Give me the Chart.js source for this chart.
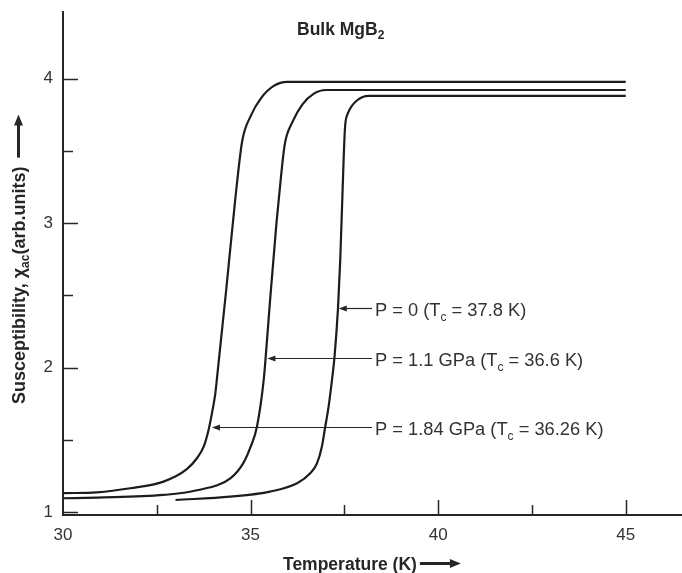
<!DOCTYPE html>
<html>
<head>
<meta charset="utf-8">
<title>Bulk MgB2 - ac susceptibility under pressure</title>
<script src="https://cdn.jsdelivr.net/npm/chart.js@4.4.0/dist/chart.umd.min.js"></script>
<style>
  html, body { margin: 0; padding: 0; background: #fff; }
  #wrap { width: 682px; height: 573px; }
</style>
</head>
<body>
<div id="wrap"><canvas id="chi" width="682" height="573"></canvas></div>
<script>
// ---- measured curves: temperature (K) vs chi_ac (arb. units) ----
const tempP0 = [33.0, 34.46, 35.52, 36.24, 36.59, 36.77, 36.9, 36.99, 37.08, 37.17, 37.238, 37.33, 37.39, 37.48, 37.513, 37.534, 37.598, 37.70, 37.833, 37.988, 38.153, 45];
const chiP0  = [1.083, 1.106, 1.141, 1.199, 1.268, 1.337, 1.452, 1.59, 1.729, 1.914, 2.076, 2.41, 2.745, 3.438, 3.645, 3.706, 3.763, 3.812, 3.849, 3.873, 3.881, 3.881];

const tempP11 = [30, 30.9, 32.68, 33.57, 34.47, 34.81, 35.0, 35.17, 35.35, 35.4, 35.53, 35.69, 35.75, 35.909, 36.114, 36.378, 36.688, 37.019, 45];
const chiP11  = [1.095, 1.1, 1.118, 1.15, 1.235, 1.34, 1.45, 1.59, 1.914, 2.064, 2.5, 3.0, 3.161, 3.542, 3.699, 3.821, 3.897, 3.922, 3.922];

const tempP184 = [30, 30.9, 31.79, 32.68, 33.3, 33.57, 33.75, 33.88, 33.97, 34.06, 34.1, 34.35, 34.59, 34.777, 34.996, 35.284, 35.618, 35.978, 45];
const chiP184  = [1.13, 1.136, 1.164, 1.21, 1.296, 1.372, 1.452, 1.568, 1.683, 1.82, 1.914, 2.537, 3.161, 3.569, 3.738, 3.867, 3.95, 3.978, 3.978];

// ---- axis ticks ----
const xTicks = [30, 32.5, 35, 37.5, 40, 42.5, 45];
const xTickLabels = [30, 35, 40, 45];
const yTicks = [1, 1.5, 2, 2.5, 3, 3.5, 4];
const yTickLabels = [1, 2, 3, 4];

// ---- curve labels (arrow tip sits on its curve) ----
const pressureLabels = ['P = 0', 'P = 1.1 GPa', 'P = 1.84 GPa'];
const tcLabels = ['37.8 K', '36.6 K', '36.26 K'];
const arrowTipT = [37.35, 35.45, 33.97];
const arrowTipChi = [2.41, 2.064, 1.59];

const INK = '#262626';
const FONT = '"Liberation Sans", Arial, Helvetica, sans-serif';

function toPoints(xs, ys) {
    return xs.map((x, i) => ({ x: x, y: ys[i] }));
}

// text with a subscript run in the middle: [before, sub, after]
function drawSubText(ctx, parts, x, y, size, bold, subSize, subDrop) {
    const w = bold ? 'bold ' : '';
    ctx.font = w + size + 'px ' + FONT;
    ctx.fillText(parts[0], x, y);
    x += ctx.measureText(parts[0]).width;
    ctx.font = w + subSize + 'px ' + FONT;
    ctx.fillText(parts[1], x, y + subDrop);
    x += ctx.measureText(parts[1]).width;
    ctx.font = w + size + 'px ' + FONT;
    if (parts[2]) {
        ctx.fillText(parts[2], x, y);
        x += ctx.measureText(parts[2]).width;
    }
    return x;
}

function arrowHead(ctx, x, y, dir, len, half) {
    // dir: 1 = pointing +x, -1 = pointing -x
    ctx.beginPath();
    ctx.moveTo(x, y);
    ctx.lineTo(x - dir * len, y - half);
    ctx.lineTo(x - dir * len, y + half);
    ctx.closePath();
    ctx.fill();
}

// tick marks point into the plot, majors longer than minors
const inwardTicks = {
    id: 'inwardTicks',
    afterDraw(chart) {
        const ctx = chart.ctx;
        const xs = chart.scales.x, ys = chart.scales.y;
        const area = chart.chartArea;
        ctx.save();
        ctx.strokeStyle = INK;
        ctx.lineWidth = 1.5;
        xTicks.forEach(v => {
            if (v === xs.min) return;
            const px = Math.round(xs.getPixelForValue(v)) + 0.5;
            const len = xTickLabels.includes(v) ? 15 : 10;
            ctx.beginPath();
            ctx.moveTo(px, area.bottom);
            ctx.lineTo(px, area.bottom - len);
            ctx.stroke();
        });
        yTicks.forEach(v => {
            const py = Math.round(ys.getPixelForValue(v)) + 0.5;
            const len = yTickLabels.includes(v) ? 15 : 10;
            ctx.beginPath();
            ctx.moveTo(area.left, py);
            ctx.lineTo(area.left + len, py);
            ctx.stroke();
        });
        ctx.restore();
    }
};

// title, axis titles with arrows, and the pressure labels
const annotations = {
    id: 'annotations',
    afterDraw(chart) {
        const ctx = chart.ctx;
        const xs = chart.scales.x, ys = chart.scales.y;
        ctx.save();
        ctx.fillStyle = INK;
        ctx.strokeStyle = INK;
        ctx.textBaseline = 'alphabetic';
        ctx.textAlign = 'left';

        // title
        drawSubText(ctx, ['Bulk MgB', '2', ''], 297, 35, 17.5, true, 12, 4);

        // x axis title
        ctx.font = 'bold 17.5px ' + FONT;
        ctx.fillText('Temperature (K)', 283, 570);
        const xEnd = 283 + ctx.measureText('Temperature (K)').width;
        ctx.lineWidth = 3;
        ctx.beginPath();
        ctx.moveTo(xEnd + 3, 563.5);
        ctx.lineTo(xEnd + 34, 563.5);
        ctx.stroke();
        arrowHead(ctx, xEnd + 44, 563.5, 1, 11, 4.5);

        // y axis title, rotated
        ctx.save();
        ctx.translate(25, 404);
        ctx.rotate(-Math.PI / 2);
        const yEnd = drawSubText(ctx, ['Susceptibility, \u03c7', 'ac', '(arb.units)'], 0, 0, 18, true, 12, 4);
        ctx.lineWidth = 3;
        ctx.beginPath();
        ctx.moveTo(yEnd + 9, -6.5);
        ctx.lineTo(yEnd + 42, -6.5);
        ctx.stroke();
        arrowHead(ctx, yEnd + 52, -6.5, 1, 11, 4.5);
        ctx.restore();

        // pressure labels with arrows onto the curves
        const textX = 375;
        pressureLabels.forEach((p, i) => {
            const tipX = xs.getPixelForValue(arrowTipT[i]);
            const py = Math.round(ys.getPixelForValue(arrowTipChi[i])) + 0.5;
            ctx.lineWidth = 1.2;
            ctx.beginPath();
            ctx.moveTo(tipX + 6, py);
            ctx.lineTo(textX - 3, py);
            ctx.stroke();
            arrowHead(ctx, tipX, py, -1, 8, 3);
            ctx.fillStyle = '#333';
            drawSubText(ctx, [p + ' (T', 'c', ' = ' + tcLabels[i] + ')'], textX, py + 7, 18.3, false, 12, 5);
            ctx.fillStyle = INK;
        });
        ctx.restore();
    }
};

function lineSet(label, xs, ys) {
    return {
        label: label,
        data: toPoints(xs, ys),
        borderColor: '#1c1c1c',
        borderWidth: 2.2,
        pointRadius: 0,
        fill: false,
        cubicInterpolationMode: 'monotone'
    };
}

new Chart(document.getElementById('chi'), {
    type: 'line',
    data: {
        datasets: [
            lineSet(pressureLabels[0], tempP0, chiP0),
            lineSet(pressureLabels[1], tempP11, chiP11),
            lineSet(pressureLabels[2], tempP184, chiP184)
        ]
    },
    options: {
        responsive: false,
        animation: false,
        devicePixelRatio: 1,
        layout: { padding: { top: 12, right: 0, bottom: 0, left: 0 } },
        plugins: { legend: { display: false }, tooltip: { enabled: false } },
        scales: {
            x: {
                type: 'linear',
                min: 30,
                max: 46.5,
                afterFit: s => { s.height = 58; s.paddingLeft = 0; s.paddingRight = 0; },
                afterBuildTicks: s => { s.ticks = xTicks.map(v => ({ value: v })); },
                grid: { display: false, drawTicks: false },
                border: { display: true, color: INK, width: 2 },
                ticks: {
                    autoSkip: false,
                    maxRotation: 0,
                    padding: 10,
                    color: '#333',
                    font: { family: FONT, size: 17 },
                    callback: v => xTickLabels.includes(v) ? String(v) : ''
                }
            },
            y: {
                type: 'linear',
                min: 0.979,
                max: 4.462,
                afterFit: s => { s.width = 63; s.paddingTop = 0; s.paddingBottom = 0; },
                afterBuildTicks: s => { s.ticks = yTicks.map(v => ({ value: v })); },
                grid: { display: false, drawTicks: false },
                border: { display: true, color: INK, width: 2 },
                ticks: {
                    autoSkip: false,
                    padding: 10,
                    color: '#333',
                    font: { family: FONT, size: 17 },
                    callback: v => yTickLabels.includes(v) ? String(v) : ''
                }
            }
        }
    },
    plugins: [inwardTicks, annotations]
});
</script>
</body>
</html>
